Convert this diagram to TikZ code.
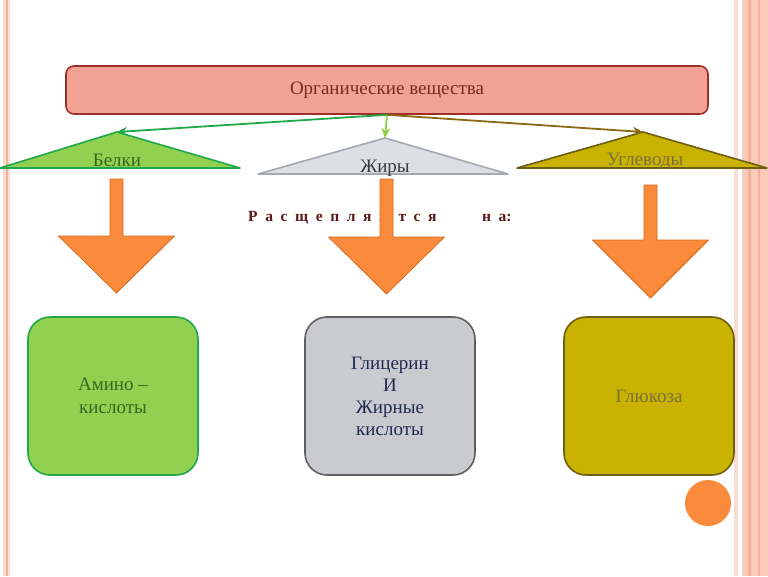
\documentclass[tikz,border=0pt]{standalone}
\usepackage{fontspec}
\setmainfont{Liberation Serif}
\usetikzlibrary{arrows.meta}
\definecolor{orgfill}{HTML}{F2A394}
\definecolor{orgdraw}{HTML}{9E2F2A}
\definecolor{orgtext}{HTML}{7A2A20}
\definecolor{grnfill}{HTML}{92D050}
\definecolor{grndraw}{HTML}{22A84A}
\definecolor{grntext}{HTML}{2F6B22}
\definecolor{lgrn}{HTML}{8FD048}
\definecolor{gryfill}{HTML}{DCDFE4}
\definecolor{grydraw}{HTML}{A5A9B0}
\definecolor{grytext}{HTML}{3A3A3A}
\definecolor{olvfill}{HTML}{C9B300}
\definecolor{olvdraw}{HTML}{6E5E12}
\definecolor{olvtext}{HTML}{7D7040}
\definecolor{olvline}{HTML}{8A6A10}
\definecolor{arrfill}{HTML}{FB8B3C}
\definecolor{arrdraw}{HTML}{D66A1E}
\definecolor{boxgry}{HTML}{C9CBD0}
\definecolor{boxgrydraw}{HTML}{606060}
\definecolor{navytext}{HTML}{1F2950}
\definecolor{splitred}{HTML}{5A1A1A}
\definecolor{stripeband}{HTML}{F9CCBA}
\definecolor{stripedark}{HTML}{F3B299}
\definecolor{stripelight}{HTML}{FBDDD0}
\newcommand\splitfont{\bfseries\fontsize{15.5}{17}\selectfont\spaceskip=7.6pt\relax}
\begin{document}
\begin{tikzpicture}[x=1pt,y=-1pt,line join=round,>={Stealth[length=10pt,width=9pt]},font=\fontsize{19}{23}\selectfont]
\tikzset{catbox/.style={rounded corners=22pt,line width=1.6pt,minimum width=170pt,minimum height=158pt,align=center},
	tri/.style={line width=1.6pt},
	link/.style={->,line width=1.8pt},
	blockarr/.style={fill=arrfill,draw=arrdraw,line width=0.8pt}}
\useasboundingbox (0,0) rectangle (768,576);
% side stripes
\fill[stripelight] (3,0) rectangle (10,576);
\fill[stripedark] (5.5,0) rectangle (8,576);
\fill[stripelight] (734,0) rectangle (738,576);
\fill[stripeband] (742,0) rectangle (768,576);
\fill[stripedark] (748,0) rectangle (751,576);
\fill[stripedark] (758,0) rectangle (760,576);
% top box
\node[draw=orgdraw,fill=orgfill,text=orgtext,line width=1.6pt,rounded corners=8pt,minimum width=642pt,minimum height=48pt] (org) at (387,90) {Органические вещества};
% triangles
\coordinate (belki) at (117,132);
\coordinate (zhiry) at (385,138);
\coordinate (ugl) at (643,132);
\draw[tri,draw=grndraw,fill=grnfill] (0,168) -- (belki) -- (240,168) -- cycle;
\draw[tri,draw=grydraw,fill=gryfill] (258,174) -- (zhiry) -- (508,174) -- cycle;
\draw[tri,draw=olvdraw,fill=olvfill] (517,168) -- (ugl) -- (767,168) -- cycle;
\node[anchor=base,text=grntext] (tbelki) at (117,166) {Белки};
\node[anchor=base,text=grytext] (tzhiry) at (385,172) {Жиры};
\node[anchor=base,text=olvtext] (tugl) at (645,165) {Углеводы};
\draw[link,grndraw] (org.south) -- (belki);
\draw[link,lgrn] (org.south) -- (zhiry);
\draw[link,olvline] (org.south) -- (ugl);
\node[anchor=base west,text=splitred,inner sep=0pt,font=\splitfont] (split) at (248,221) {Р а с щ е п л я ю т с я\hspace{38pt} н а:};
% block arrows
\foreach \cx/\ty/\hy/\by in {116.5/179/236/293,386.5/179/237/294,650.5/185/240/298}
\draw[blockarr] (\cx-6.5,\ty) -- (\cx+6.5,\ty) -- (\cx+6.5,\hy) -- (\cx+58,\hy) -- (\cx,\by) -- (\cx-58,\hy) -- (\cx-6.5,\hy) -- cycle;
% result boxes
\node[catbox,draw=grndraw,fill=grnfill,text=grntext] (amino) at (113,396) {Амино –\\кислоты};
\node[catbox,draw=boxgrydraw,fill=boxgry,text=navytext,font=\fontsize{19}{22}\selectfont] (glic) at (390,396) {Глицерин\\И\\Жирные\\кислоты};
\node[catbox,draw=olvdraw,fill=olvfill,text=olvtext] (gluk) at (649,396) {Глюкоза};
\fill[arrfill] (708,503) circle (23pt);
\end{tikzpicture}
\end{document}
